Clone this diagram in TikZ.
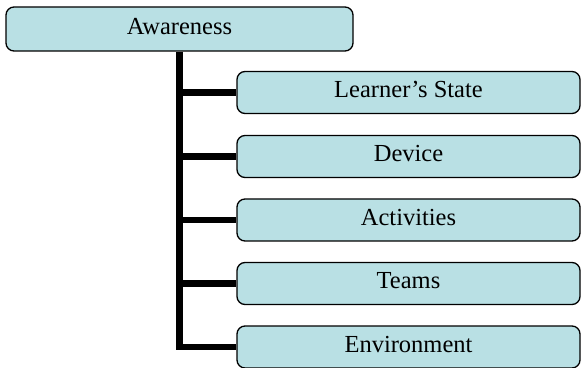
\documentclass[tikz,border=0pt]{standalone}
\usepackage{fontspec}
\setmainfont{Liberation Serif}
\definecolor{boxfill}{RGB}{185,224,228}
\begin{document}
\begin{tikzpicture}[x=1pt,y=1pt,
  box/.style={draw=black, line width=1.3pt, fill=boxfill, rounded corners=8pt, inner sep=0pt,
    font=\fontsize{24.5}{25}\selectfont, text height=17pt, text depth=6pt},
  topbox/.style={box, minimum width=347pt, minimum height=44pt},
  childbox/.style={box, minimum width=343pt, minimum height=42pt},
  conn/.style={draw=black, line width=6.5pt, line join=miter}]
\useasboundingbox (0,0) rectangle (581,367);
\node[topbox] (aw) at (179.5,338) {Awareness};
\node[childbox] (ls) at (408.5,274.5) {Learner’s State};
\node[childbox] (dev) at (408.5,210.5) {Device};
\node[childbox] (act) at (408.5,147) {Activities};
\node[childbox] (tm) at (408.5,83.5) {Teams};
\node[childbox] (env) at (408.5,20) {Environment};
\draw[conn] (aw.south) |- (env.west);
\foreach \c in {ls,dev,act,tm}
  \draw[conn] (aw.south |- \c.west) -- (\c.west);
\end{tikzpicture}
\end{document}
